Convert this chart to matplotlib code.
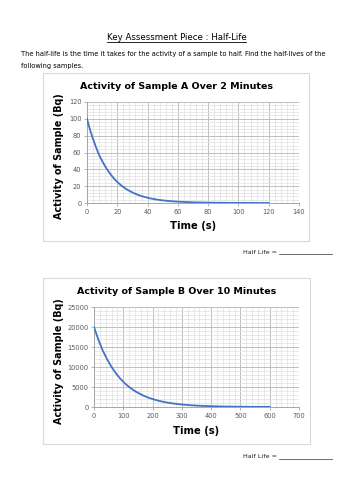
import matplotlib
matplotlib.use("Agg")
import matplotlib.pyplot as plt
from matplotlib.patches import Rectangle
from matplotlib.ticker import MultipleLocator

# ---- data ----
time_a = [0, 2, 4, 6, 8, 10, 12, 14, 16, 18, 20, 23, 26, 29, 32, 35, 38, 42,
          46, 50, 55, 60, 70, 80, 90, 100, 110, 120]
activity_a = [100, 87, 76, 66, 57, 50, 43.5, 38, 33, 28.7, 25, 20.3, 16.5, 13.4,
              10.9, 8.8, 7.2, 5.4, 4.1, 3.1, 2.2, 1.6, 0.8, 0.4, 0.2, 0.1, 0.05, 0.02]

time_b = [0, 15, 30, 45, 60, 75, 90, 105, 120, 135, 150, 170, 190, 210, 230, 250,
          275, 300, 330, 360, 400, 440, 480, 540, 600]
activity_b = [20000, 16800, 14100, 11900, 10000, 8400, 7070, 5950, 5000, 4200, 3540,
              2800, 2220, 1770, 1400, 1100, 830, 625, 440, 310, 200, 120, 80, 40, 20]

title_a = "Activity of Sample A Over 2 Minutes"
title_b = "Activity of Sample B Over 10 Minutes"
xlabel = "Time (s)"
ylabel = "Activity of Sample (Bq)"
page_title = "Key Assessment Piece : Half-Life"
intro_1 = "The half-life is the time it takes for the activity of a sample to half. Find the half-lives of the"
intro_2 = "following samples."
half_life_text = "Half Life = "

W, H = 353, 500
fig = plt.figure(figsize=(W / 100, H / 100), dpi=100)
fig.patch.set_facecolor("white")


def rect(l, t, r, b):
    return [l / W, 1 - b / H, (r - l) / W, (b - t) / H]


def fx(x):
    return x / W


def fy(y):
    return 1 - y / H


LINE = "#4472C4"
TICKC = "#595959"

# page title
fig.text(fx(176.5), fy(37), page_title, ha="center", va="center", fontsize=6.2,
         color="#000000")
fig.add_artist(plt.Line2D([fx(107), fx(246)], [fy(42), fy(42)], color="black", lw=0.6))
fig.text(fx(21), fy(54), intro_1, ha="left", va="center", fontsize=4.75)
fig.text(fx(21), fy(66), intro_2, ha="left", va="center", fontsize=4.75)


def chart(frame, plot, title, title_y, x, y, xmax, xmaj, xmin, ymax, ymaj, ymin,
          ylab_x, xlab_y, half_y):
    fl, ft, fr, fb = frame
    fig.add_artist(Rectangle((fx(fl), fy(fb)), fx(fr - fl), (fb - ft) / H,
                             transform=fig.transFigure, facecolor="white",
                             edgecolor="#d9d9d9", lw=0.8, zorder=-5))
    ax = fig.add_axes(rect(*plot))
    ax.patch.set_alpha(0)
    ax.plot(x, y, color=LINE, lw=1.3, zorder=3, solid_joinstyle="round")
    ax.set_xlim(0, xmax)
    ax.set_ylim(0, ymax)
    ax.xaxis.set_major_locator(MultipleLocator(xmaj))
    ax.xaxis.set_minor_locator(MultipleLocator(xmin))
    ax.yaxis.set_major_locator(MultipleLocator(ymaj))
    ax.yaxis.set_minor_locator(MultipleLocator(ymin))
    ax.grid(which="major", color="#bfbfbf", lw=0.7)
    ax.grid(which="minor", color="#e0e0e0", lw=0.5)
    ax.set_axisbelow(True)
    for s in ["top", "right"]:
        ax.spines[s].set_visible(False)
    for s in ["left", "bottom"]:
        ax.spines[s].set_color("#a6a6a6")
        ax.spines[s].set_linewidth(0.7)
    ax.tick_params(which="major", labelsize=4.8, labelcolor=TICKC, color="#a6a6a6",
                   length=2.5, width=0.6, pad=1.5)
    ax.tick_params(which="minor", length=0)
    fig.text(fx((fl + fr) / 2), fy(title_y), title, ha="center", va="center",
             fontsize=6.8, fontweight="bold")
    fig.text(fx((plot[0] + plot[2]) / 2), fy(xlab_y), xlabel, ha="center", va="center",
             fontsize=7.2, fontweight="bold")
    fig.text(fx(ylab_x), fy((plot[1] + plot[3]) / 2 + 4), ylabel, ha="center",
             va="center", rotation=90, fontsize=6.9, fontweight="bold")
    fig.text(fx(243), fy(half_y), half_life_text, ha="left", va="center", fontsize=4.6,
             color="#222222")
    fig.add_artist(plt.Line2D([fx(279), fx(332)], [fy(half_y + 2), fy(half_y + 2)],
                              color="#555555", lw=0.6))
    return ax


chart((43, 73, 309, 241), (87, 102, 299, 203), title_a, 87, time_a, activity_a,
      140, 20, 4, 120, 20, 4, 59, 226, 252)
chart((43, 278, 310, 444), (94, 307, 299, 407), title_b, 292, time_b, activity_b,
      700, 100, 20, 25000, 5000, 1000, 59, 431, 457)

fig.savefig("out.png", dpi=100, facecolor="white")
